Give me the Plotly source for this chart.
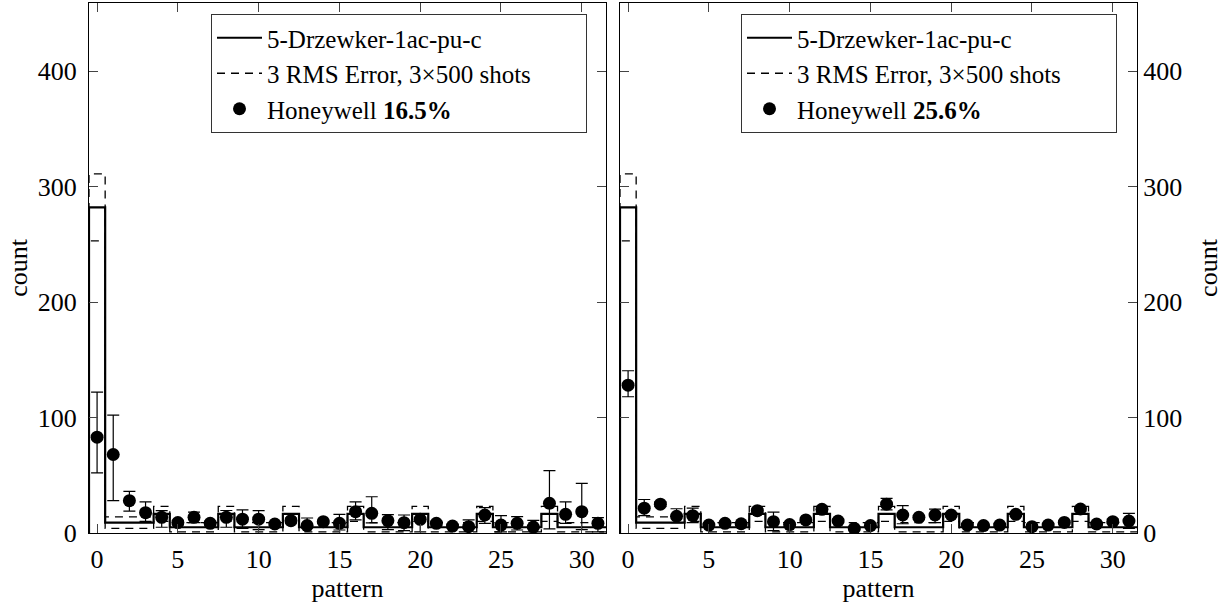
import numpy as np
import plotly.graph_objects as go

# ---------------- data ----------------
pattern = list(range(32))

# ideal distribution of 5-Drzewker-1ac-pu-c (counts)
ideal = [282, 9, 9, 9, 16.5, 5, 5, 5, 16.5, 5, 5, 5, 16.5, 5, 5, 5,
         16.5, 5, 5, 5, 16.5, 5, 5, 5, 16.5, 5, 5, 5, 16.5, 5, 5, 5]
# 3 RMS error band (upper / lower)
rms_hi = [311, 14, 14, 14, 23, 9, 9, 9, 23, 9, 9, 9, 23, 9, 9, 9,
          23, 9, 9, 9, 23, 9, 9, 9, 23, 9, 9, 9, 23, 9, 9, 9]
rms_lo = [253, 4, 4, 4, 10, 1, 1, 1, 10, 1, 1, 1, 10, 1, 1, 1,
          10, 1, 1, 1, 10, 1, 1, 1, 10, 1, 1, 1, 10, 1, 1, 1]

# Honeywell 16.5% (left panel): value, error-bar top, error-bar bottom
hw1 = [83, 68, 28, 17.6, 13.6, 9, 13.6, 8.4, 13.6, 12, 12, 7.8, 10.7, 6.4, 9.8, 8.4,
       18.5, 17, 10.7, 8.9, 11.8, 8.4, 6, 5.5, 15.6, 6.9, 8.4, 5.1, 25.7, 16.2, 18.5, 8.4]
hw1_hi = [122, 102, 36, 27, 19.3, 11, 18, 10, 19.5, 20, 19.3, 9, 13, 13, 11, 16.2,
          27, 31.4, 16, 15.6, 16.7, 10, 7.5, 11.3, 22, 15, 14.1, 11, 54, 27, 43, 13.4]
hw1_lo = [52, 28, 19, 10, 5, 7, 9, 7, 5, 4, 3, 6.5, 8, 4.5, 8.5, 2.6,
          11.3, 8.7, 3, 2, 1, 7, 4.5, 4, 8.4, 1, 2.6, 4, 3.5, 8.4, 3, 1]

# Honeywell 25.6% (right panel)
hw2 = [128, 21.5, 25, 14.5, 15, 6.9, 8.4, 8, 19.3, 9.8, 7.3, 11.3, 20.5, 10.4, 4, 6.4,
       25, 15.6, 13.6, 15.6, 15.6, 6.9, 6.4, 6.9, 16.2, 5.5, 6.9, 9.2, 20.8, 7.8, 9.8, 10.4]
hw2_hi = [140.5, 29, 27, 21, 21.5, 8, 10, 9, 21, 18, 8.5, 13, 23, 12, 5, 8,
          30, 23.7, 15, 20.6, 17.5, 8, 7.5, 8, 18, 6.5, 8, 10.5, 22.5, 9, 12, 17]
hw2_lo = [118, 15, 23, 9, 9, 6, 7, 7, 18, 2, 6, 10, 18, 9, 3, 5,
          20, 8, 12, 9, 14, 6, 5.5, 6, 14.5, 4.5, 6, 8, 19, 7, 8.5, 4]

x_ticks = [0, 5, 10, 15, 20, 25, 30]
y_ticks = [0, 100, 200, 300, 400]

# ---------------- helpers ----------------
p = np.array(pattern, dtype=float)


def step_xy(vals):
    vals = np.asarray(vals, dtype=float)
    edges = np.concatenate([[p[0] - 0.5], p + 0.5])
    xs = np.concatenate([[edges[0]], edges])
    ys = np.concatenate([[0.0], vals, [vals[-1]]])
    return xs, ys


FONT = "Liberation Serif"
FS = 26
LFS = 25
PAD = "&nbsp;" * 8  # widens the legend box to the reference size

fig = go.Figure()


def add_panel(xa, ya, legend, hw, hw_hi, hw_lo, label):
    xs, ys = step_xy(rms_hi)
    fig.add_trace(go.Scatter(x=xs, y=ys, mode="lines", line_shape="hv",
                             line=dict(color="black", width=1.3, dash="8px,6px"),
                             name="3 RMS Error, 3×500 shots" + PAD, xaxis=xa, yaxis=ya,
                             legend=legend, legendrank=2))
    xs, ys = step_xy(rms_lo)
    fig.add_trace(go.Scatter(x=xs, y=ys, mode="lines", line_shape="hv",
                             line=dict(color="black", width=1.3, dash="8px,6px"),
                             showlegend=False, xaxis=xa, yaxis=ya, legend=legend))
    xs, ys = step_xy(ideal)
    fig.add_trace(go.Scatter(x=xs, y=ys, mode="lines", line_shape="hv",
                             line=dict(color="black", width=2.2),
                             name="5-Drzewker-1ac-pu-c", xaxis=xa, yaxis=ya,
                             legend=legend, legendrank=1))
    hw = np.asarray(hw, float)
    up = np.asarray(hw_hi, float) - hw
    dn = hw - np.asarray(hw_lo, float)
    fig.add_trace(go.Scatter(x=pattern, y=hw, mode="markers",
                             marker=dict(color="black", size=13),
                             error_y=dict(type="data", symmetric=False, array=up,
                                          arrayminus=dn, color="black",
                                          thickness=1.2, width=6),
                             name=label, xaxis=xa, yaxis=ya, legend=legend,
                             legendrank=3))


add_panel("x", "y", "legend", hw1, hw1_hi, hw1_lo, "Honeywell <b>16.5%</b>")
add_panel("x2", "y2", "legend2", hw2, hw2_hi, hw2_lo, "Honeywell <b>25.6%</b>")

W, H = 1231, 606
top_px, bot_px = 3, 533

axis_common = dict(showline=True, linecolor="black", linewidth=1, mirror="ticks",
                   ticks="inside", ticklen=9, tickcolor="#444", tickwidth=1,
                   showgrid=False, zeroline=False, automargin=False,
                   tickfont=dict(family=FONT, size=FS, color="black"))

xa_common = dict(axis_common, range=[-0.5, 31.5], tickvals=x_ticks,
                 ticklabelstandoff=3,
                 title=dict(text="pattern", font=dict(family=FONT, size=FS, color="black"),
                            standoff=0))
ya_font = dict(family=FONT, size=FS, color="black")

legend_common = dict(bgcolor="white", bordercolor="#333", borderwidth=1,
                     font=dict(family=FONT, size=LFS, color="black"),
                     xanchor="right", yanchor="top", itemwidth=45,
                     tracegroupgap=0, traceorder="normal")

fig.update_layout(
    width=W, height=H,
    margin=dict(l=0, r=0, t=top_px, b=H - bot_px, autoexpand=False),
    paper_bgcolor="white", plot_bgcolor="white",
    font=dict(family=FONT, size=FS, color="black"),
    xaxis=dict(xa_common, domain=[89 / W, 606 / W], anchor="y"),
    yaxis=dict(axis_common, range=[0, 459], tickvals=y_ticks, domain=[0, 1],
               anchor="x", side="left", ticklabelstandoff=6,
               title=dict(text="count", font=ya_font, standoff=2)),
    xaxis2=dict(xa_common, domain=[620 / W, 1137 / W], anchor="y2"),
    yaxis2=dict(axis_common, range=[0, 459], tickvals=y_ticks, domain=[0, 1],
                anchor="x2", side="right",
                title=dict(text="count", font=ya_font, standoff=17)),
    legend=dict(legend_common, x=587 / W, y=(bot_px - 14) / (bot_px - top_px)),
    legend2=dict(legend_common, x=1117 / W, y=(bot_px - 14) / (bot_px - top_px)),
    showlegend=True,
)

fig.write_html("out.html", config={"displayModeBar": False},
               post_script="document.body.style.margin='0px';document.body.style.padding='0px';")
